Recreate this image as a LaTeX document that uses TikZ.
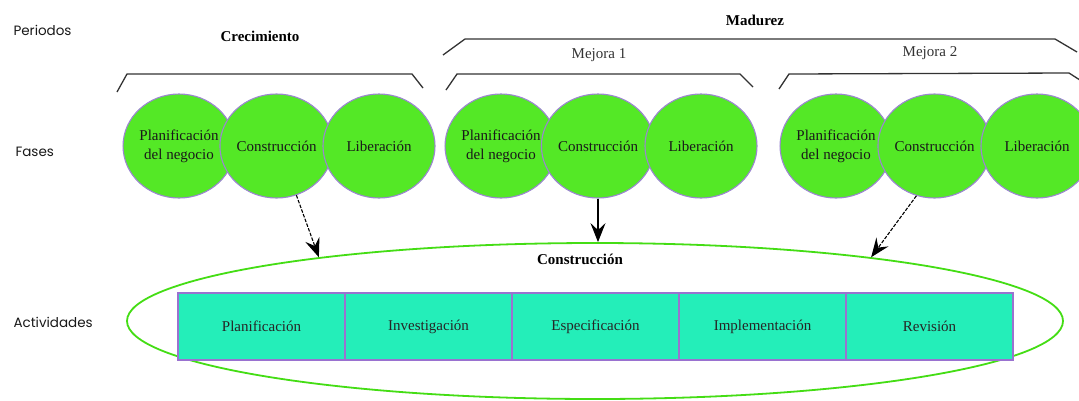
\documentclass[tikz,border=0pt]{standalone}
\usepackage{fontspec}
\setmainfont{Liberation Serif}
\newfontfamily\sidefont{Poppins}
\usetikzlibrary{arrows.meta,shapes.geometric}
\definecolor{phasegreen}{HTML}{54E826}
\definecolor{phaseedge}{HTML}{9B86D0}
\definecolor{actfill}{HTML}{24EEB9}
\definecolor{actedge}{HTML}{9A72D0}
\definecolor{ellgreen}{HTML}{44DD14}
\tikzset{
  phase/.style={ellipse, draw=phaseedge, fill=phasegreen, line width=1.1pt,
    minimum width=106pt, minimum height=104pt, inner sep=0pt, align=center,
    font=\fontsize{15}{19}\selectfont, text=black!90},
  phasewide/.style={phase, minimum width=112pt},
  actbox/.style={rectangle, draw=actedge, fill=actfill, line width=1.5pt,
    minimum width=167pt, minimum height=67pt, inner sep=0pt,
    font=\fontsize{15}{19}\selectfont, text=black!85},
  sidelabel/.style={anchor=west, font=\sidefont\fontsize{13.5}{16}\selectfont, text=black!90},
  periodlabel/.style={font=\fontsize{15}{19}\selectfont},
  bracket/.style={draw=black!80, line width=1.3pt},
  linkarrow/.style={draw=black, line width=1.1pt,
    -{Stealth[length=19pt,width=15pt,inset=7pt]}},
  dashedlink/.style={linkarrow, dash pattern=on 3.5pt off 1.5pt}
}
\begin{document}
\begin{tikzpicture}[x=1pt,y=-1pt]
\clip (0,0) rectangle (1079,400);
\fill[white] (0,0) rectangle (1079,400);

% side labels
\node[sidelabel] (lper) at (10,30) {Periodos};
\node[sidelabel] (lfas) at (12,152) {Fases};
\node[sidelabel] (lact) at (10,322) {Actividades};

% period labels
\node[periodlabel, font=\bfseries\fontsize{15}{19}\selectfont] (crec) at (260,36) {Crecimiento};
\node[periodlabel, font=\bfseries\fontsize{15}{19}\selectfont] (mad) at (755,20) {Madurez};
\node[periodlabel, text=black!80] (mej1) at (599,55) {Mejora 1};
\node[periodlabel, text=black!80] (mej2) at (930,53) {Mejora 2};

% brackets
\draw[bracket] (117,92) -- (127,74) -- (412,74) -- (423,88);
\draw[bracket] (446,90) -- (457,74) -- (740,74) -- (753,87);
\draw[bracket] (779,89) -- (789,74) -- (1069,73) -- (1083,82);
\draw[bracket] (443,55) -- (465,39) -- (1055,39) -- (1077,52);

% activity ellipse
\node[ellipse, draw=ellgreen, line width=1.8pt, minimum width=936pt,
  minimum height=156pt, inner sep=0pt] (act) at (595,321) {};
\node[font=\bfseries\fontsize{15}{19}\selectfont] (actt) at (580,259) {Construcción};

% activity boxes
\node[actbox] (a1) at (261.5,326.5) {Planificación};
\node[actbox] (a2) at (428.5,326.5) {Investigación};
\node[actbox] (a3) at (595.5,326.5) {Especificación};
\node[actbox] (a4) at (762.5,326.5) {Implementación};
\node[actbox] (a5) at (929.5,326.5) {Revisión};

% group 1
\node[phase] (p1) at (179,146) {Planificación\\del negocio};
\node[phase] (c1) at (276.5,146) {Construcción};
\node[phasewide] (l1) at (379,146) {Liberación};
% group 2
\node[phase] (p2) at (501,146) {Planificación\\del negocio};
\node[phase] (c2) at (598,146) {Construcción};
\node[phasewide] (l2) at (701,146) {Liberación};
% group 3
\node[phase] (p3) at (836,146) {Planificación\\del negocio};
\node[phase] (c3) at (934.5,146) {Construcción};
\node[phasewide] (l3) at (1037,146) {Liberación};

% arrows
\draw[dashedlink] (c1.-68) -- (act.167.35);
\draw[linkarrow] (c2.south) -- (c2.south |- act.north);
\draw[dashedlink] (c3.-110) -- (act.13.25);
\end{tikzpicture}
\end{document}
